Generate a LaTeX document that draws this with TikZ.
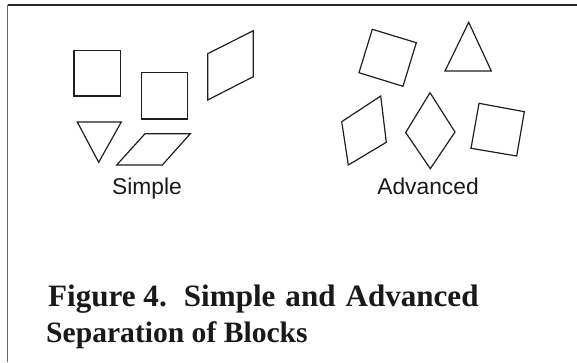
\documentclass[tikz,border=0pt]{standalone}
\usepackage{fontspec}
\newfontfamily\labelfont{Liberation Sans}
\newfontfamily\capfont{Liberation Serif}
\begin{document}
\begin{tikzpicture}[x=1pt,y=-1pt,
  blockshape/.style={draw=black!88,line width=1.2pt,line join=miter},
  framestyle/.style={line width=1.4pt},
  lbl/.style={font=\labelfont\fontsize{22.8}{26}\selectfont,anchor=base,inner sep=0pt,text=black!90},
  captext/.style={font=\capfont\bfseries\fontsize{29.8}{36}\selectfont,anchor=base west,inner sep=0pt,text=black!90}]
\useasboundingbox (0,0) rectangle (577,362);
% frame
\draw[framestyle,draw=black!85] (7.5,5) -- (577,5);
\draw[framestyle,draw=black!60] (7.5,5) -- (7.5,362);
% simple blocks
\draw[blockshape] (74,50.3) -- (120.3,50.3) -- (120.3,96) -- (74,96) -- cycle;
\draw[blockshape] (141.3,72.7) -- (187.7,72.7) -- (187.7,119) -- (141.3,119) -- cycle;
\draw[blockshape] (207.7,53.7) -- (253.3,30.7) -- (253.3,76.7) -- (207.7,100) -- cycle;
\draw[blockshape] (77.3,122) -- (121.3,122) -- (98.7,162.3) -- cycle;
\draw[blockshape] (145,133.7) -- (190.3,133.7) -- (162.3,165) -- (116.7,165) -- cycle;
% advanced blocks
\draw[blockshape] (372.3,29.3) -- (416.3,42.7) -- (403,86.3) -- (359,72.7) -- cycle;
\draw[blockshape] (468.7,22.3) -- (491.3,71) -- (445,71) -- cycle;
\draw[blockshape] (341.7,121.7) -- (380.7,96) -- (386.3,142.3) -- (348.3,165) -- cycle;
\draw[blockshape] (430,92.7) -- (455,132) -- (430.3,168.7) -- (405.7,132.5) -- cycle;
\draw[blockshape] (479,103.3) -- (524.3,111.7) -- (516.7,156) -- (471,148.3) -- cycle;
% labels
\node[lbl] (simple) at (147,194) {Simple};
\node[lbl] (advanced) at (428,194) {Advanced};
\node[captext,font=\capfont\bfseries\fontsize{31.1}{36}\selectfont] (cap1) at (48,306) {Figure 4.\hspace{0.55em}Simple\hspace{0.32em}and\hspace{0.32em}Advanced};
\node[captext,font=\capfont\bfseries\fontsize{29.6}{36}\selectfont] (cap2) at (46,342.7) {Separation of Blocks};
\end{tikzpicture}
\end{document}
